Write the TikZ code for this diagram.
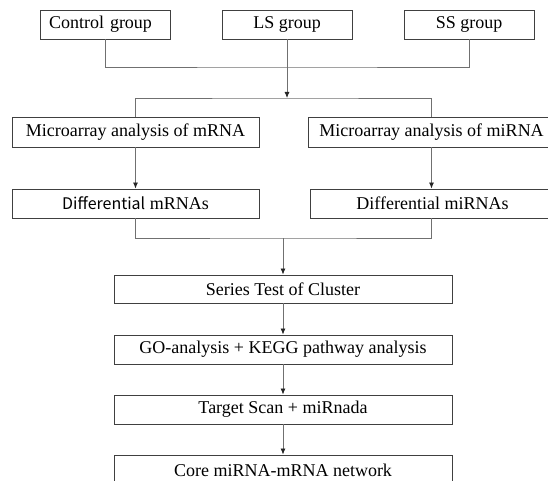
\documentclass[tikz,border=0pt]{standalone}
\usepackage{fontspec}
\setmainfont{Liberation Serif}
\newfontfamily\cjksans{Noto Sans CJK SC}
\usetikzlibrary{arrows.meta}
\definecolor{boxgray}{HTML}{404040}
\definecolor{linegray}{HTML}{707070}

\begin{document}
\begin{tikzpicture}[x=1pt,y=-1pt,
        box/.style={draw=boxgray,line width=0.9pt,inner sep=0pt,minimum height=29pt,
                    font=\fontsize{18}{20}\selectfont,text=black},
        link/.style={draw=linegray,line width=0.8pt},
        arr/.style={link,-{Latex[length=6pt,width=5pt,color=black!85]}}]
        \useasboundingbox (0,0) rectangle (548,481);
        % groups
        \draw (105,24.5) node[box,minimum width=130pt,text width=112pt,align=left] (ctrl) {Control group};
        \draw (287,24.5) node[box,minimum width=130pt] (ls) {LS group};
        \draw (469,24.5) node[box,minimum width=130pt] (ss) {SS group};
        % microarray
        \draw (135.5,132) node[box,minimum width=247pt,minimum height=30pt] (mrna) {Microarray analysis of mRNA};
        \draw (431.5,132) node[box,minimum width=247pt,minimum height=30pt] (mirna) {Microarray analysis of miRNA};
        \draw (135.5,203.5) node[box,minimum width=247pt] (dmrna) {{\cjksans\fontsize{16}{20}\selectfont Differential} mRNAs};
        \draw (432.5,203.5) node[box,minimum width=245pt] (dmirna) {Differential miRNAs};
        % analysis chain
        \draw (283,289) node[box,minimum width=338pt,minimum height=28pt] (series) {Series Test of Cluster};
        \draw (283,349.5) node[box,minimum width=338pt] (go) {GO-analysis + KEGG pathway analysis};
        \draw (283,409.5) node[box,minimum width=338pt] (target) {Target Scan + miRnada};
        \draw (283,470) node[box,minimum width=338pt,minimum height=30pt] (core) {Core miRNA-mRNA network};
        \coordinate (join1) at (287,67);
        \coordinate (split1) at (287,98);
        \coordinate (join2) at (283,238);
        \draw[link] (ctrl.south) |- (join1) -| (ss.south);
        \draw[arr] (ls.south) -- (split1);
        \draw[link] (mrna.north) |- (split1) -| (mirna.north);
        \draw[arr] (mrna.south) -- (dmrna.north);
        \draw[arr] (mirna.south) -- (mirna.south |- dmirna.north);
        \draw[link] (dmrna.south) |- (join2) -| (mirna.south |- dmirna.south);
        \draw[arr] (join2) -- (series.north);
        \draw[arr] (series) -- (go);
        \draw[arr] (go) -- (target);
        \draw[arr] (target) -- (core);
    \end{tikzpicture}
\end{document}
